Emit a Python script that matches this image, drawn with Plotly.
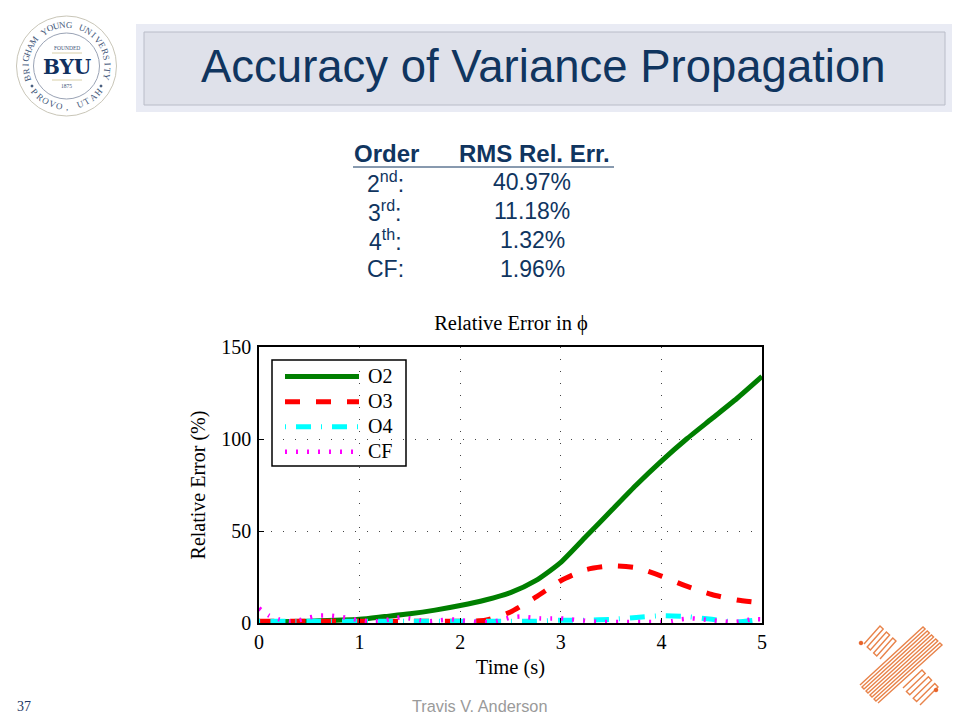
import math

import plotly.graph_objects as go

# values
T_SMOOTH = [0, 0.5, 1, 1.25, 1.5, 1.75, 2, 2.25, 2.5, 2.75, 3, 3.25, 3.5, 3.75, 4, 4.25, 4.5, 4.75, 5]
O2 = [0.5, 1, 2, 3.5, 5, 7, 9.5, 12.5, 16.5, 23, 33, 47, 61, 75, 88, 100, 111, 122, 134]
O3 = [1, 1, 1, 1, 1, 1, 1, 1.5, 6, 14, 23, 29, 31, 30, 25.5, 20, 15.5, 12.5, 11]
O4 = [1, 1, 1, 1, 1, 1, 1, 1, 1, 1, 1.5, 1.5, 2, 3, 4, 3.5, 2, 0.5, 2]

T_CF = [0, 0.1, 0.2, 0.3, 0.4, 0.5, 0.6, 0.7, 0.8, 0.9,
        1, 1.1, 1.2, 1.3, 1.4, 1.5, 1.6, 1.7, 1.8, 1.9,
        2, 2.1, 2.2, 2.3, 2.4, 2.5, 2.6, 2.7, 2.8, 2.9,
        3, 3.1, 3.2, 3.3, 3.4, 3.5, 3.6, 3.7, 3.8, 3.9,
        4, 4.1, 4.2, 4.3, 4.4, 4.5, 4.6, 4.7, 4.8, 4.9, 5]
CF = [8, 4, 2, 1, 1.5, 3, 4, 4, 3.5, 2.5,
      1.5, 1, 1, 2, 3, 2.5, 1.5, 1, 1.5, 2,
      1.5, 1, 0.5, 0.5, 1.5, 3, 3.5, 3, 2.5, 2.5,
      2.5, 2, 1.5, 1, 0.5, 0.5, 0.5, 0.5, 0.5, 0.5,
      0.5, 1, 2, 2.5, 2, 1.5, 1, 0.5, 1, 2, 2]

TABLE_ORDER = ["2<sup>nd</sup>:", "3<sup>rd</sup>:", "4<sup>th</sup>:", "CF:"]
TABLE_RMS = ["40.97%", "11.18%", "1.32%", "1.96%"]

NAVY = "#10355f"
SERIF = "Liberation Serif"
SANS = "Liberation Sans"

# plot area in window pixels
L, R, T, B = 259, 762, 347, 623


def px(x):
    return (x - L) / (R - L)


def py(y):
    return (B - y) / (B - T)


shapes = []
notes = []


def text(x, y, s, size, color=NAVY, font=SANS, angle=0, anchor="center"):
    notes.append(dict(x=px(x), y=py(y), xref="paper", yref="paper", text=s, showarrow=False,
                      font=dict(family=font, size=size, color=color), textangle=angle,
                      xanchor=anchor, yanchor="middle"))


def rect(x0, y0, x1, y1, fill, line="rgba(0,0,0,0)", width=1, layer="below"):
    shapes.append(dict(type="rect", xref="paper", yref="paper", x0=px(x0), x1=px(x1),
                       y0=py(y0), y1=py(y1), fillcolor=fill, line=dict(color=line, width=width),
                       layer=layer))


def circle(cx, cy, r, fill, line, width=1):
    shapes.append(dict(type="circle", xref="paper", yref="paper", x0=px(cx - r), x1=px(cx + r),
                       y0=py(cy + r), y1=py(cy - r), fillcolor=fill,
                       line=dict(color=line, width=width), layer="below"))


def hline(x0, x1, y, color, width=1):
    shapes.append(dict(type="line", xref="paper", yref="paper", x0=px(x0), x1=px(x1),
                       y0=py(y), y1=py(y), line=dict(color=color, width=width), layer="below"))


def serpentine(a0, a1, b0, b1, n, color="#e8834a"):
    """Zigzag between edge a0-a1 and edge b0-b1, n strips."""
    pts = []
    for i in range(n):
        f = i / (n - 1)
        pa = (a0[0] + (a1[0] - a0[0]) * f, a0[1] + (a1[1] - a0[1]) * f)
        pb = (b0[0] + (b1[0] - b0[0]) * f, b0[1] + (b1[1] - b0[1]) * f)
        pts += [pa, pb] if i % 2 == 0 else [pb, pa]
    path = "M" + " L".join(f"{px(x):.4f},{py(y):.4f}" for x, y in pts)
    shapes.append(dict(type="path", xref="paper", yref="paper", path=path,
                       line=dict(color=color, width=1.4), layer="below"))


def arc_text(s, cx, cy, r, start, step, size, bottom=False):
    # one annotation per letter, rotated along the seal's ring
    for i, ch in enumerate(s):
        if ch == " ":
            continue
        deg = start + step * i
        a = math.radians(deg)
        x = cx + r * math.sin(a)
        y = cy - r * math.cos(a)
        ang = (deg + (180 if bottom else 0)) % 360
        text(x, y, ch, size, color="#3e5578", font=SERIF, angle=ang)


# title band
rect(136, 24, 952, 112, "#e9ebf4")
rect(144, 32, 945, 105, "#dfe1ea", line="#b9bcc8")
text(543, 66, "Accuracy of Variance Propagation", 45.5)

# seal
circle(66.5, 66, 50, "#ffffff", "#c9c6b8", 1)
circle(66.5, 66, 33, "#ffffff", "#9aa3b5", 1)
arc_text("BRIGHAM YOUNG UNIVERSITY", 66.5, 66, 41, -107, 9.26, 9)
arc_text("PROVO, UTAH", 66.5, 66, 41, 231, -10.2, 9, bottom=True)
circle(32, 86, 1, "#3e5578", "#3e5578")
circle(101, 86, 1, "#3e5578", "#3e5578")
text(66.5, 48, "FOUNDED", 5.5, color="#3e5578", font=SERIF)
text(66.5, 67, "<b>BYU</b>", 20, color="#10305f", font="DejaVu Serif")
text(66.5, 86, "1875", 5.5, color="#3e5578", font=SERIF)
hline(52, 82, 53, "#d8cfa8")
hline(52, 82, 80, "#d8cfa8")

# small table above the chart
text(386, 153, "<b>Order</b>", 24)
text(534, 153, "<b>RMS Rel. Err.</b>", 24)
hline(353, 614, 167, NAVY, 1)
for i, (order, rms) in enumerate(zip(TABLE_ORDER, TABLE_RMS)):
    row_y = 182 + i * 29
    text(385, row_y, order, 23)
    text(532, row_y, rms, 23)

# footer
text(24, 706, "37", 14, color="#1f3864", font=SERIF)
text(479, 706, "Travis V. Anderson", 16.3, color="#9a9a9a")

# orange mark
serpentine((864, 644), (880, 659), (880, 626), (896, 641), 6)
serpentine((860, 685), (878, 703), (923, 627), (942, 645), 10)
serpentine((903, 688), (920, 705), (922, 670), (938, 687), 6)
circle(861, 643, 1.8, "#e8632a", "#e8632a")
circle(936, 690, 1.8, "#e8632a", "#e8632a")

# legend frame, the legend itself only carries the entries
rect(272, 360, 406, 466, "white", line="black", width=1.5, layer="between")

fig = go.Figure()
styles = [
    ("O2", T_SMOOTH, O2, "#007f00", "solid", 5),
    ("O3", T_SMOOTH, O3, "#ff0000", "15px,16px", 5),
    ("O4", T_SMOOTH, O4, "#00ffff", "1px,10px,15px,10px", 5),
    ("CF", T_CF, CF, "#ff00ff", "2px,9px", 4.5),
]
for name, xs, ys, color, dash, width in styles:
    fig.add_trace(go.Scatter(
        x=xs, y=ys, mode="lines",
        name=f'<span style="font-size:20px">\u2009{name}</span>',
        line=dict(color=color, dash=dash, width=width, shape="spline", smoothing=0.6),
    ))

axis = dict(
    showline=True, linecolor="black", linewidth=1.5, mirror=True,
    ticks="inside", ticklen=5, tickcolor="black", tickwidth=1,
    showgrid=True, gridcolor="#444444", griddash="1px,11px", gridwidth=1,
    zeroline=False, tickfont=dict(family=SERIF, size=20, color="black"),
)

fig.update_layout(
    width=960, height=720, autosize=False,
    margin=dict(l=L, r=960 - R, t=T, b=720 - B),
    paper_bgcolor="white", plot_bgcolor="white",
    title=dict(text="Relative Error in ϕ", x=511 / 960, y=1 - 323 / 720,
               xanchor="center", yanchor="middle",
               font=dict(family=SERIF, size=20.5, color="black")),
    xaxis=dict(axis, range=[0, 5], tickvals=[0, 1, 2, 3, 4, 5],
               title=dict(text="Time (s)", standoff=8,
                          font=dict(family=SERIF, size=20.5, color="black"))),
    yaxis=dict(axis, range=[0, 150], tickvals=[0, 50, 100, 150], ticklabelstandoff=2,
               title=dict(text="Relative Error (%)", standoff=10,
                          font=dict(family=SERIF, size=20, color="black"))),
    legend=dict(x=px(280), y=py(359), xanchor="left", yanchor="top",
                bgcolor="rgba(0,0,0,0)", borderwidth=0,
                itemwidth=74, font=dict(family=SERIF, size=17, color="black")),
    shapes=shapes, annotations=notes,
)

# the page's default body margin would shift everything by 8px
fig.write_html("out.html", config=dict(displayModeBar=False),
               post_script="document.body.style.margin = '0';")
